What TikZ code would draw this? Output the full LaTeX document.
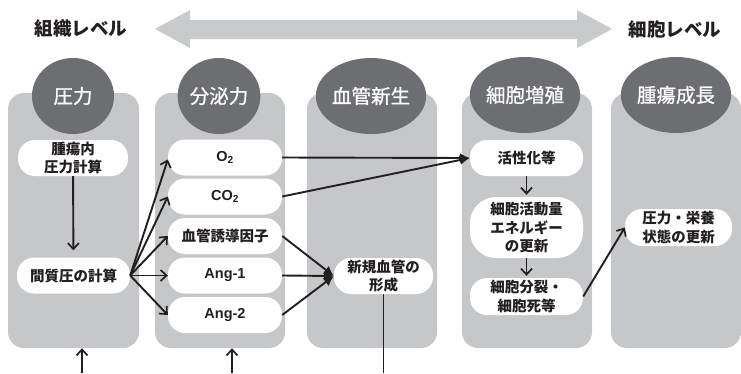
\documentclass[tikz,border=0pt]{standalone}
\usepackage{fontspec}
\setmainfont{Noto Sans CJK JP}
\newfontfamily\medjp[FakeBold=0.8]{Noto Sans CJK JP}
\newfontfamily\lat{Liberation Sans}
\usetikzlibrary{arrows.meta,calc,shapes.geometric}
\definecolor{colgray}{HTML}{C6C7C9}
\definecolor{circgray}{HTML}{6D6E71}
\definecolor{arrgray}{HTML}{C9CACB}
\definecolor{ink}{HTML}{231F20}
\tikzset{
  colbox/.style={fill=colgray, draw=none, rounded corners=16pt, minimum width=130pt, minimum height=255pt, inner sep=0pt},
  circlab/.style={ellipse, fill=circgray, draw=none, minimum width=82pt, minimum height=76pt, inner sep=0pt, text=white, font=\medjp\fontsize{19.5}{22}\selectfont},
  hdr/.style={text=ink, font=\bfseries\fontsize{18.5}{20}\selectfont, inner sep=0pt},
  wbox/.style={fill=white, draw=none, rounded corners=17pt, inner sep=0pt, align=center, text=ink, font=\bfseries\fontsize{14.5}{18.5}\selectfont, minimum height=36pt},
  latin/.style={font=\lat\bfseries\fontsize{14.5}{16}\selectfont},
  conn/.style={draw=ink, line width=1.9pt},
  arr/.style={conn, -{Straight Barb[length=6pt,width=11pt,line width=1.7pt]}},
  arrf/.style={conn, -{Latex[length=10pt,width=10pt]}}
}
\begin{document}
\begin{tikzpicture}[x=1pt,y=-1pt]
\useasboundingbox (0,0) rectangle (741,373);
% top double arrow
\fill[arrgray] (155,29) -- (190,10) -- (190,20) -- (577,20) -- (577,10) -- (612,29) -- (577,48) -- (577,39) -- (190,39) -- (190,48) -- cycle;
\node[hdr] (tl) at (81,29) {組織レベル};
\node[hdr] (cl) at (675,29) {細胞レベル};
% columns
\node[colbox, minimum width=131pt] (c1) at (73.5,220.5) {};
\node[colbox] (c2) at (220,220.5) {};
\node[colbox] (c3) at (372,220.5) {};
\node[colbox] (c4) at (527,220.5) {};
\node[colbox] (c5) at (676,220.5) {};
% circles
\node[circlab] (h1) at (73,96) {圧力};
\node[circlab] (h2) at (219,96) {分泌力};
\node[circlab] (h3) at (371,96) {血管新生};
\node[circlab] (h4) at (525,95) {細胞増殖};
\node[circlab] (h5) at (676,95) {腫瘍成長};
% column 1
\node[wbox, minimum width=110pt] (n1) at (73,158) {腫瘍内\\圧力計算};
\node[wbox, minimum width=113pt] (n2) at (73.5,275.5) {間質圧の計算};
% column 2
\node[wbox, minimum width=114pt, latin] (o2) at (225,157.5) {O\textsubscript{2}};
\node[wbox, minimum width=114pt, latin] (co2) at (225,196.5) {CO\textsubscript{2}};
\node[wbox, minimum width=114pt] (vf) at (225,236) {血管誘導因子};
\node[wbox, minimum width=114pt, latin] (a1) at (225,275.5) {Ang-1};
\node[wbox, minimum width=114pt, latin] (a2) at (225,315) {Ang-2};
% column 3
\node[wbox, minimum width=99pt] (nv) at (383.5,276) {新規血管の\\形成};
% column 4
\node[wbox, minimum width=113pt] (act) at (526.5,158) {活性化等};
\node[wbox, minimum width=113pt, minimum height=61pt, rounded corners=26pt] (en) at (526.5,227.5) {細胞活動量\\エネルギー\\の更新};
\node[wbox, minimum width=113pt, minimum height=37pt] (dv) at (526.5,296.5) {細胞分裂・\\細胞死等};
% column 5
\node[wbox, minimum width=107pt, minimum height=37pt] (up) at (678.5,227.5) {圧力・栄養\\状態の更新};
% coordinates at bottom
\coordinate (b1) at (82,373);
\coordinate (b2) at (232,373);
\coordinate (b3) at (384,373);
% connectors
\draw[arr, shorten >=7pt] (n1) -- (n2);
\draw[arr] (n2.east) -- ($(o2.west)+(0,2)$);
\draw[arr] (n2.east) -- (co2.west);
\draw[arr] (n2.east) -- (vf.west);
\draw[arr] (n2.east) -- (a1.west);
\draw[arr] (n2.east) -- (a2.west);
\draw[arrf] (o2.east) -- (act.west);
\draw[arrf] (co2.east) -- (act.west);
\draw[arrf] (vf.east) -- (nv.west);
\draw[arrf] (a1.east) -- (nv.west);
\draw[arrf] (a2.east) -- (nv.west);
\draw[arr, shorten >=2pt] (act) -- (en);
\draw[arr, shorten >=2pt] (en) -- (dv);
\draw[arr] (dv.east) -- (up.west);
\draw[conn] (nv.south) -- (nv.south |- b3);
\draw[arr] (b1) -- (b1 |- c1.south);
\draw[arr] (b2) -- (b2 |- c2.south);
\end{tikzpicture}
\end{document}
